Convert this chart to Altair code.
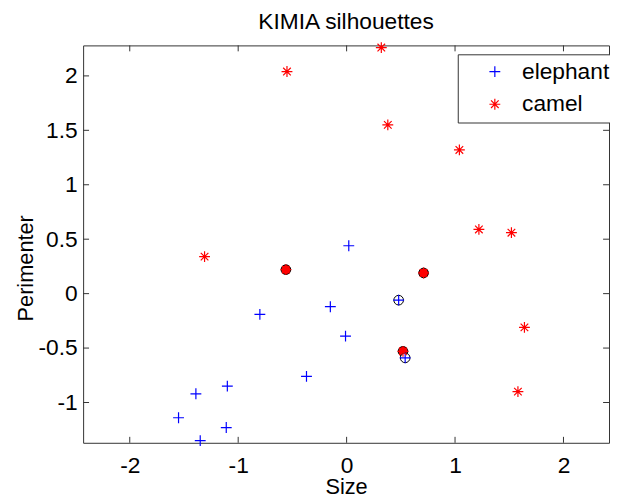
import altair as alt
import pandas as pd

# ---- data ----
elephant_size = [0.02, -0.15, -0.80, -0.01, -0.37, 0.48, 0.54, -1.10, -1.39, -1.55, -1.11, -1.35]
elephant_perim = [0.44, -0.12, -0.19, -0.39, -0.76, -0.06, -0.59, -0.85, -0.92, -1.14, -1.23, -1.35]

camel_size = [0.32, -0.55, 0.38, 1.04, 1.22, 1.52, -1.31, -0.56, 0.71, 0.52, 1.64, 1.58]
camel_perim = [2.26, 2.04, 1.55, 1.32, 0.59, 0.56, 0.34, 0.22, 0.19, -0.53, -0.31, -0.90]

circled_camel_size = [-0.56, 0.71, 0.52]
circled_camel_perim = [0.22, 0.19, -0.53]
circled_elephant_size = [0.48, 0.54]
circled_elephant_perim = [-0.06, -0.59]

classes = ["elephant", "camel"]
x_ticks = [-2, -1, 0, 1, 2]
y_ticks = [-1, -0.5, 0, 0.5, 1, 1.5, 2]

# ---- layout / style ----
W, H = 532, 402
FONT = "Liberation Sans"
FS = 23
FS_T = 22
AX = "#333333"
PLUS = "M-1,0L1,0M0,-1L0,1"
STAR = "M-1,0L1,0M0,-1L0,1M-0.7,-0.7L0.7,0.7M-0.7,0.7L0.7,-0.7"

df = pd.DataFrame({
    "Size": elephant_size + camel_size,
    "Perimenter": elephant_perim + camel_perim,
    "class": ["elephant"] * len(elephant_size) + ["camel"] * len(camel_size),
})
circ_c = pd.DataFrame({"Size": circled_camel_size, "Perimenter": circled_camel_perim})
circ_e = pd.DataFrame({"Size": circled_elephant_size, "Perimenter": circled_elephant_perim})
xt = pd.DataFrame({"Size": x_ticks})
yt = pd.DataFrame({"Perimenter": y_ticks})

xs = alt.Scale(domain=[-2.43, 2.42], nice=False, zero=False)
ys = alt.Scale(domain=[-1.37, 2.28], nice=False, zero=False)

x_axis = alt.Axis(values=x_ticks, labelExpr="'' + datum.value", ticks=False, domain=False, grid=False,
                  labelFont=FONT, labelFontSize=FS, labelColor="black", labelPadding=12,
                  title="Size", titleFont=FONT, titleFontSize=FS_T, titleFontWeight="normal",
                  titleColor="black", titleBaseline="alphabetic", titleY=51)
y_axis = alt.Axis(values=y_ticks, labelExpr="'' + datum.value", ticks=False, domain=False, grid=False,
                  labelFont=FONT, labelFontSize=FS, labelColor="black", labelPadding=6,
                  title="Perimenter", titleFont=FONT, titleFontSize=FS_T, titleFontWeight="normal",
                  titleColor="black", titleBaseline="alphabetic", titleX=-51, titleY=225)

leg = alt.Legend(orient="none", legendX=379, legendY=9, title=None, direction="vertical",
                 fillColor="white", strokeColor=AX, padding=6,
                 labelFont=FONT, labelFontSize=FS, labelColor="black",
                 symbolSize=121, symbolStrokeWidth=1.2, symbolOffset=20, labelOffset=16,
                 rowPadding=9)

points = alt.Chart(df).mark_point(filled=False, size=121, strokeWidth=1.2, opacity=1).encode(
    x=alt.X("Size:Q", scale=xs, axis=x_axis),
    y=alt.Y("Perimenter:Q", scale=ys, axis=y_axis),
    color=alt.Color("class:N", scale=alt.Scale(domain=classes, range=["#0000ff", "#ff0000"]), legend=leg),
    shape=alt.Shape("class:N", scale=alt.Scale(domain=classes, range=[PLUS, STAR]), legend=leg),
)

rings_c = alt.Chart(circ_c).mark_point(shape="circle", size=95, stroke="black", strokeWidth=1,
                                        fill="#ff0000", filled=True, opacity=1).encode(
    x=alt.X("Size:Q", scale=xs), y=alt.Y("Perimenter:Q", scale=ys))
rings_e = alt.Chart(circ_e).mark_point(shape="circle", size=95, stroke="black", strokeWidth=1,
                                        fill="white", filled=True, opacity=1).encode(
    x=alt.X("Size:Q", scale=xs), y=alt.Y("Perimenter:Q", scale=ys))

tick_b = alt.Chart(xt).mark_rule(color=AX).encode(x=alt.X("Size:Q", scale=xs), y=alt.value(H), y2=alt.value(H - 6))
tick_t = alt.Chart(xt).mark_rule(color=AX).encode(x=alt.X("Size:Q", scale=xs), y=alt.value(0), y2=alt.value(6))
tick_l = alt.Chart(yt).mark_rule(color=AX).encode(y=alt.Y("Perimenter:Q", scale=ys), x=alt.value(0), x2=alt.value(6))
tick_r = alt.Chart(yt).mark_rule(color=AX).encode(y=alt.Y("Perimenter:Q", scale=ys), x=alt.value(W), x2=alt.value(W - 6))

chart = alt.layer(tick_b, tick_t, tick_l, tick_r, rings_c, rings_e, points).properties(
    width=W, height=H,
    title=alt.TitleParams("KIMIA silhouettes", font=FONT, fontSize=FS, fontWeight="normal", color="black",
                          anchor="middle", frame="group", baseline="alphabetic", offset=15, dy=27),
    autosize=alt.AutoSizeParams(type="none"),
    padding={"left": 76, "top": 35, "right": 1, "bottom": 52},
).configure_view(stroke=AX, strokeWidth=1, fill="white")

chart.save("out.html", embed_options={"renderer": "svg", "actions": False})
